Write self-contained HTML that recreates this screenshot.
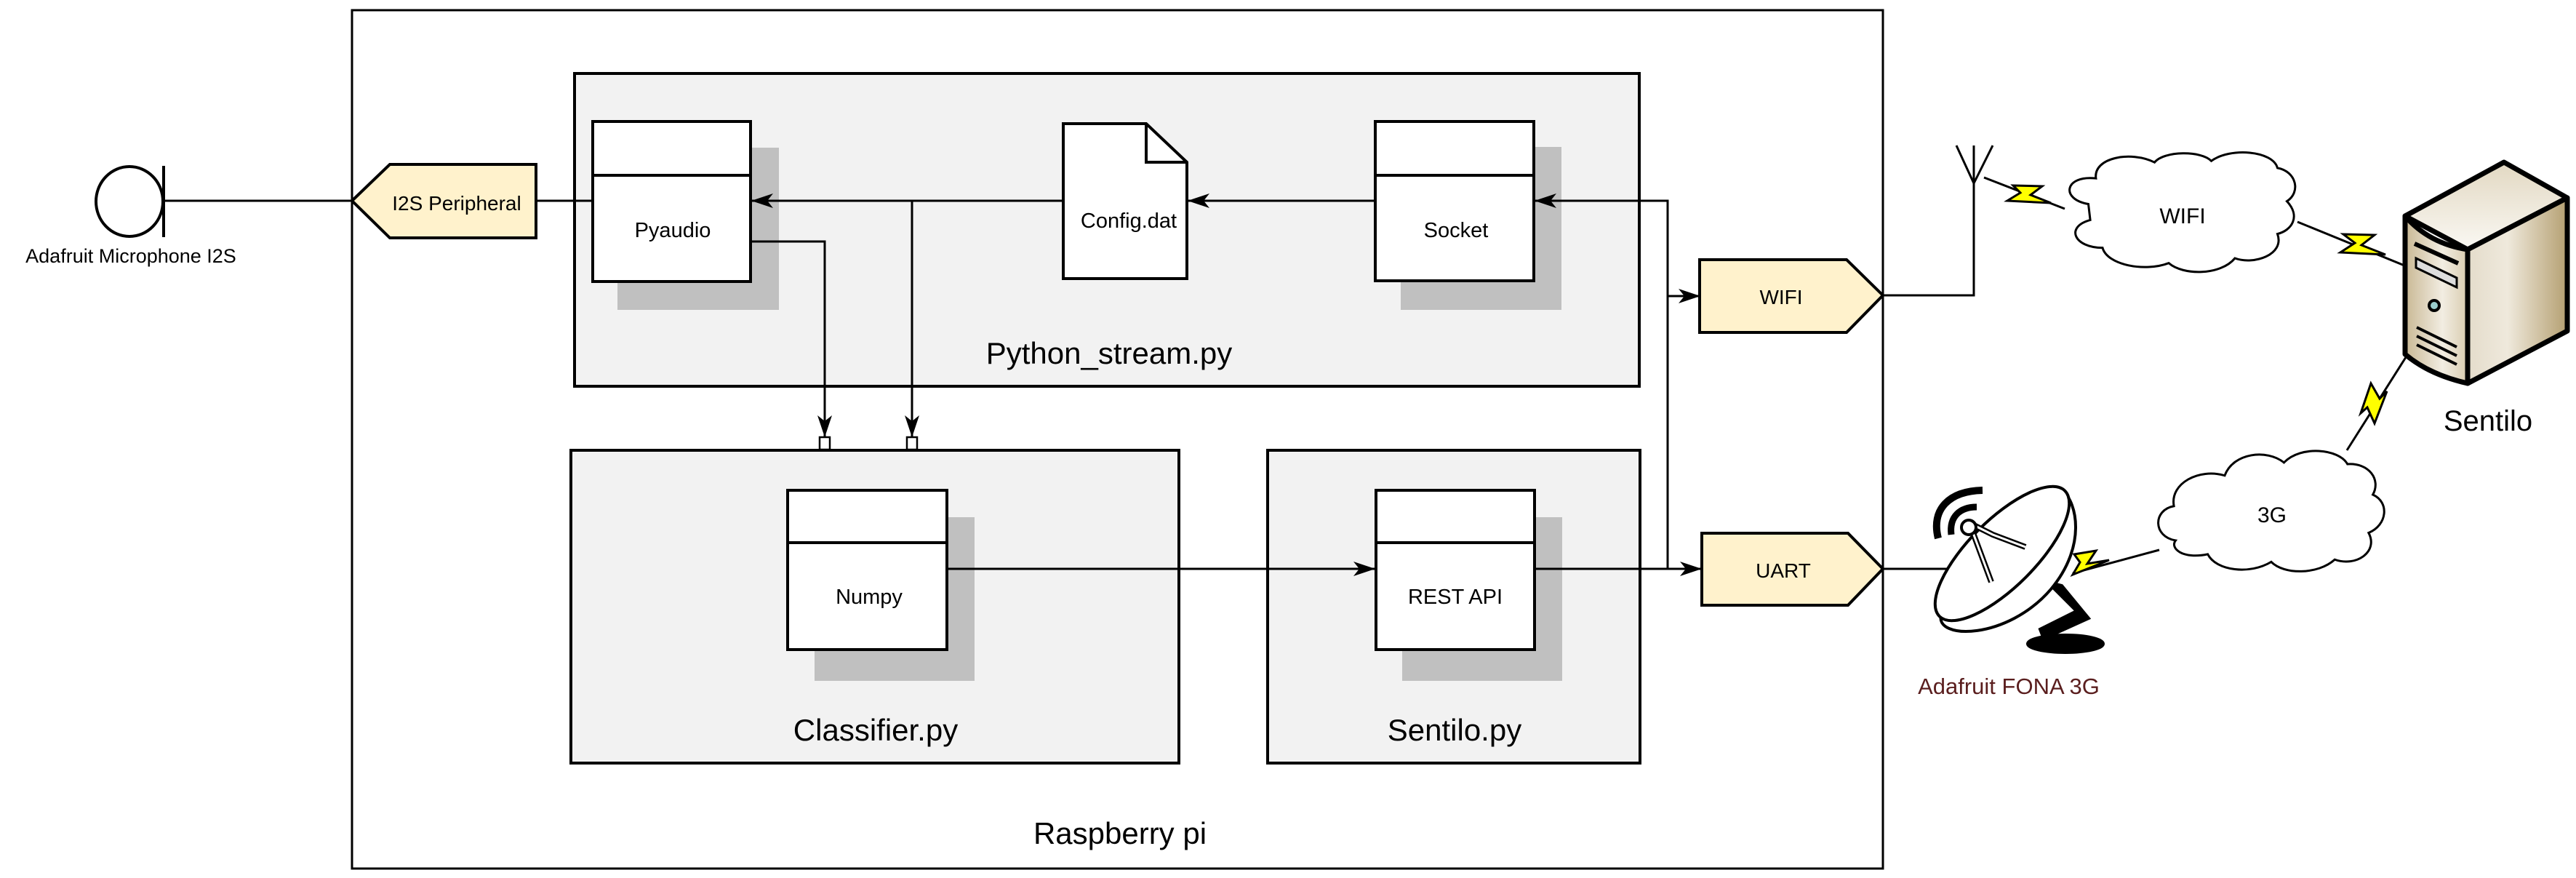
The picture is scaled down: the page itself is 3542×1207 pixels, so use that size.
<!DOCTYPE html>
<html><head><meta charset="utf-8"><style>
html,body{margin:0;padding:0;background:#fff}
svg{display:block}
text{font-family:"Liberation Sans Narrow","Liberation Sans",sans-serif;fill:#000}
</style></head><body>
<svg width="3542" height="1207" viewBox="0 0 3542 1207" xmlns="http://www.w3.org/2000/svg">
<defs>
<marker id="ah" viewBox="0 0 30 20" refX="29" refY="10" markerWidth="30" markerHeight="20" markerUnits="userSpaceOnUse" orient="auto">
<path d="M0,0 L30,10 L0,20 L8,10 Z" fill="#000"/>
</marker>
<linearGradient id="sf" x1="0" x2="1" y1="0" y2="0"><stop offset="0" stop-color="#c9b894"/><stop offset="0.6" stop-color="#f2ede2"/><stop offset="1" stop-color="#d9ccb0"/></linearGradient>
<linearGradient id="sr" x1="0" x2="1" y1="0" y2="0"><stop offset="0" stop-color="#e4dccb"/><stop offset="0.4" stop-color="#efe9dc"/><stop offset="1" stop-color="#b5a072"/></linearGradient>
<linearGradient id="st" x1="0" x2="0" y1="0" y2="1"><stop offset="0" stop-color="#e2d8c2"/><stop offset="1" stop-color="#faf8f3"/></linearGradient>
</defs>

<rect x="484" y="14" width="2105" height="1180" fill="#fff" stroke="#000" stroke-width="3"/>
<text x="1540" y="1160" font-size="42" text-anchor="middle">Raspberry pi</text>

<rect x="790" y="101" width="1464" height="430" fill="#f2f2f2" stroke="#000" stroke-width="4"/>
<text x="1525" y="500" font-size="42" text-anchor="middle">Python_stream.py</text>

<rect x="785" y="619" width="836" height="430" fill="#f2f2f2" stroke="#000" stroke-width="4"/>
<text x="1204" y="1018" font-size="42" text-anchor="middle">Classifier.py</text>
<rect x="1743" y="619" width="512" height="430" fill="#f2f2f2" stroke="#000" stroke-width="4"/>
<text x="2000" y="1018" font-size="42" text-anchor="middle">Sentilo.py</text>

<rect x="849" y="203" width="222" height="223" fill="#c0c0c0"/>
<rect x="1926" y="202" width="221" height="224" fill="#c0c0c0"/>
<rect x="1120" y="711" width="220" height="225" fill="#c0c0c0"/>
<rect x="1928" y="711" width="220" height="225" fill="#c0c0c0"/>

<rect x="815" y="167" width="217" height="220" fill="#fff" stroke="#000" stroke-width="4"/>
<line x1="815" y1="241" x2="1032" y2="241" stroke="#000" stroke-width="4"/>
<text x="925" y="326" font-size="29" text-anchor="middle">Pyaudio</text>
<rect x="1891" y="167" width="218" height="219" fill="#fff" stroke="#000" stroke-width="4"/>
<line x1="1891" y1="241" x2="2109" y2="241" stroke="#000" stroke-width="4"/>
<text x="2002" y="326" font-size="29" text-anchor="middle">Socket</text>
<rect x="1083" y="674" width="219" height="219" fill="#fff" stroke="#000" stroke-width="4"/>
<line x1="1083" y1="746" x2="1302" y2="746" stroke="#000" stroke-width="4"/>
<text x="1195" y="830" font-size="29" text-anchor="middle">Numpy</text>
<rect x="1892" y="674" width="218" height="219" fill="#fff" stroke="#000" stroke-width="4"/>
<line x1="1892" y1="746" x2="2110" y2="746" stroke="#000" stroke-width="4"/>
<text x="2001" y="830" font-size="29" text-anchor="middle">REST API</text>

<path d="M1462,170 L1576,170 L1632,223 L1632,383 L1462,383 Z" fill="#fff" stroke="#000" stroke-width="4"/>
<path d="M1576,170 L1576,223 L1632,223" fill="none" stroke="#000" stroke-width="4"/>
<text x="1552" y="313" font-size="29" text-anchor="middle">Config.dat</text>

<g stroke="#000" stroke-width="3" fill="none">
<line x1="1462" y1="276" x2="1034" y2="276" marker-end="url(#ah)"/>
<line x1="1891" y1="276" x2="1634" y2="276" marker-end="url(#ah)"/>
<polyline points="2293,782 2293,276 2111,276" marker-end="url(#ah)"/>
<line x1="2293" y1="407" x2="2337" y2="407" marker-end="url(#ah)"/>
<line x1="1254" y1="276" x2="1254" y2="600" marker-end="url(#ah)"/>
<polyline points="1032,332 1134,332 1134,600" marker-end="url(#ah)"/>
<line x1="1302" y1="782" x2="1890" y2="782" marker-end="url(#ah)"/>
<line x1="2110" y1="782" x2="2339" y2="782" marker-end="url(#ah)"/>
<line x1="223" y1="276" x2="484" y2="276"/>
<line x1="737" y1="276" x2="815" y2="276"/>
<polyline points="2589,406 2714,406 2714,200"/>
<line x1="2714" y1="252" x2="2690" y2="200"/>
<line x1="2714" y1="252" x2="2740" y2="200"/>
<line x1="2589" y1="782" x2="2700" y2="782"/>
</g>
<rect x="1127" y="601" width="14" height="17" fill="#fff" stroke="#000" stroke-width="2.5"/>
<rect x="1247" y="601" width="14" height="17" fill="#fff" stroke="#000" stroke-width="2.5"/>

<path d="M484,276 L536,226 L737,226 L737,327 L536,327 Z" fill="#fff2cc" stroke="#000" stroke-width="4"/>
<text x="628" y="289" font-size="28" text-anchor="middle">I2S Peripheral</text>
<ellipse cx="178" cy="277" rx="46" ry="48" fill="#fff" stroke="#000" stroke-width="4"/>
<line x1="225" y1="228" x2="225" y2="326" stroke="#000" stroke-width="4"/>
<text x="180" y="361" font-size="27" text-anchor="middle">Adafruit Microphone I2S</text>

<path d="M2337,357 L2539,357 L2589,406 L2539,457 L2337,457 Z" fill="#fff2cc" stroke="#000" stroke-width="4"/>
<text x="2449" y="418" font-size="28" text-anchor="middle">WIFI</text>
<path d="M2340,733 L2541,733 L2589,782 L2541,832 L2340,832 Z" fill="#fff2cc" stroke="#000" stroke-width="4"/>
<text x="2452" y="794" font-size="28" text-anchor="middle">UART</text>

<g stroke="#000" stroke-width="3" fill="#ffff00">
<line x1="2728" y1="244" x2="2839" y2="287"/>
<path d="M2768,255 L2808,256 L2792,268 L2820,279 L2760,276 L2778,265 Z"/>
<line x1="3159" y1="305" x2="3306" y2="365"/>
<path d="M3222,322 L3265,323 L3247,337 L3280,350 L3218,347 L3238,334 Z"/>
<line x1="3310" y1="488" x2="3227" y2="619"/>
<path d="M3260,527 L3272,548 L3282,538 L3265,582 L3255,560 L3246,568 Z"/>
<line x1="2969" y1="756" x2="2850" y2="788"/>
<path d="M2852,762 L2882,757 L2870,775 L2900,770 L2850,790 L2860,773 Z"/>
</g>

<g fill="#fff" stroke="#000" stroke-width="3">
<path transform="matrix(1.3 0 0 0.955 -846.5 11.2)" vector-effect="non-scaling-stroke" d="M2860,282 C2830,275 2835,240 2868,245 C2865,215 2905,205 2930,222 C2940,205 2980,205 2990,220 C3010,200 3055,205 3060,230 C3080,235 3085,265 3070,278 C3085,300 3075,320 3060,325 C3068,355 3035,370 3015,360 C3000,385 2960,385 2945,367 C2920,380 2880,370 2875,345 C2845,345 2835,315 2862,305 Z"/>
<path transform="matrix(1.164 0 0 1.05 -479.6 -44.5)" vector-effect="non-scaling-stroke" d="M2982,750 C2955,745 2955,710 2980,705 C2975,675 3010,655 3040,665 C3050,635 3090,630 3110,648 C3130,625 3175,630 3185,650 C3210,648 3225,670 3215,690 C3235,700 3232,730 3210,740 C3222,765 3195,785 3170,775 C3150,795 3110,795 3095,778 C3070,795 3030,790 3020,768 C2990,775 2975,760 2982,750 Z"/>
</g>
<text x="3001" y="307" font-size="30" text-anchor="middle">WIFI</text>
<text x="3124" y="718" font-size="30" text-anchor="middle">3G</text>

<g stroke="#000" stroke-width="7" stroke-linejoin="round">
<path d="M3307,297 L3443,223 L3530,272 L3393,343 Z" fill="url(#st)"/>
<path d="M3393,343 L3530,272 L3530,455 L3393,527 Z" fill="url(#sr)"/>
<path d="M3307,297 Q3340,335 3393,343 L3393,527 Q3340,515 3307,487 Z" fill="url(#sf)"/>
</g>
<path d="M3320,335 L3380,362" stroke="#000" stroke-width="6"/>
<path d="M3322,355 L3378,382 L3378,395 L3322,368 Z" fill="#ddd" stroke="#000" stroke-width="3"/>
<circle cx="3347" cy="420" r="7" fill="#9cc" stroke="#000" stroke-width="4"/>
<path d="M3323,450 L3378,477 M3323,462 L3378,489 M3323,474 L3378,501" stroke="#000" stroke-width="4"/>
<text x="3421" y="592" font-size="40" text-anchor="middle">Sentilo</text>

<g stroke="#000" stroke-width="4" fill="#fff">
<ellipse cx="2840" cy="885" rx="52" ry="12" fill="#000"/>
<path d="M2815,800 L2855,840 L2805,865 L2810,878 L2872,850 L2835,805 Z" fill="#000"/>
<path d="M2669,845 C2660,880 2760,880 2820,810 C2870,750 2855,690 2837,676 Z"/>
<ellipse cx="2753" cy="761" rx="122" ry="46" transform="rotate(-45 2753 761)"/>
<path d="M2710,720 L2740,735 L2785,752 M2712,730 L2738,800" fill="none" stroke-width="8"/>
<path d="M2710,720 L2740,735 L2785,752 M2712,730 L2738,800" fill="none" stroke="#fff" stroke-width="3"/>
<circle cx="2707" cy="725" r="10"/>
<path d="M2665,740 C2655,700 2680,675 2726,674" fill="none" stroke-width="10"/>
<path d="M2683,735 C2680,710 2695,697 2718,697" fill="none" stroke-width="9"/>
</g>
<text x="2762" y="954" font-size="31" text-anchor="middle" style="fill:#5a1e1e">Adafruit FONA 3G</text>
</svg>
</body></html>
